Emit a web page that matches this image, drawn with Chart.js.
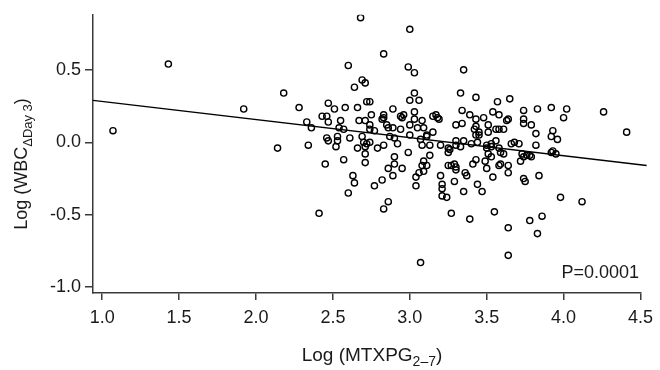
<!DOCTYPE html>
<html><head><meta charset="utf-8">
<script src="https://cdn.jsdelivr.net/npm/chart.js@4/dist/chart.umd.min.js"></script>
<style>html,body{margin:0;padding:0;background:#fff}#wrap{width:660px;height:370px}</style>
</head><body><div id="wrap"><canvas id="c" width="660" height="370"></canvas></div>
<script>
// Scatter points: Log(MTXPG2-7) vs Log(WBC ΔDay3)
const xValues = [
1.07,1.43,1.92,2.18,2.14,
2.68,2.83,2.60,2.69,2.71,2.64,2.72,2.74,2.28,2.47,2.51,2.58,2.66,2.89,2.83,2.83,2.75,2.43,2.46,2.33,2.36,2.47,2.55,2.54,2.57,2.67,2.71,2.74,2.74,2.77,2.82,2.85,2.86,2.89,2.94,2.46,2.47,2.53,2.53,2.52,2.61,2.34,2.69,2.70,2.72,2.74,2.71,2.66,2.79,2.83,2.87,2.90,2.92,
2.45,2.57,2.71,2.71,2.90,2.90,2.86,2.89,2.95,2.99,2.63,2.64,2.60,2.77,2.82,2.86,2.83,2.41,
3.00,2.99,3.03,3.35,3.03,3.00,3.06,3.33,3.43,3.57,3.65,3.74,3.74,3.74,2.94,2.96,2.95,3.03,3.03,3.00,3.00,3.05,3.09,3.08,3.15,3.17,3.19,3.18,3.15,3.11,3.11,3.07,3.08,3.13,3.20,3.34,3.39,3.43,3.30,3.34,3.43,3.42,3.45,3.43,3.45,3.48,3.51,3.51,3.54,3.58,3.56,3.58,3.61,3.63,3.64,3.25,3.30,3.30,3.33,3.35,3.40,3.44,3.50,3.53,3.56,3.58,3.66,3.68,3.71,
3.26,3.25,3.13,3.09,3.08,3.11,3.09,3.06,3.04,3.04,3.20,3.21,3.21,3.21,3.24,3.25,3.27,3.29,3.30,3.30,3.29,3.36,3.37,3.35,3.27,3.39,3.41,3.43,3.44,3.47,3.49,3.50,3.54,3.58,3.59,3.55,3.64,3.64,3.72,3.64,3.64,3.07,3.74,3.73,3.74,3.75,3.50,3.53,3.53,3.51,3.59,3.61,
3.83,3.92,4.02,4.00,4.26,4.41,3.79,3.82,3.93,3.92,3.96,3.82,3.93,
3.76,3.79,3.78,3.92,3.95,3.84,3.98,4.12,3.78,3.86,3.83
];
const yValues = [
0.08,0.54,0.23,0.34,-0.04,
0.86,0.61,0.53,0.43,0.41,0.38,0.28,0.28,0.24,0.27,0.23,0.24,0.24,0.23,0.19,0.17,0.19,0.18,0.18,0.14,0.10,0.14,0.15,0.10,0.09,0.15,0.15,0.12,0.09,0.08,0.16,0.12,0.10,0.10,0.09,0.03,0.01,0.04,0.01,-0.03,0.03,-0.02,0.04,0.00,-0.01,0.00,-0.03,-0.04,-0.04,-0.02,0.04,0.03,-0.01,
-0.15,-0.12,-0.08,-0.14,-0.10,-0.15,-0.18,-0.23,-0.18,-0.07,-0.23,-0.28,-0.35,-0.30,-0.26,-0.41,-0.46,-0.49,
0.78,0.52,0.48,0.50,0.34,0.29,0.29,0.34,0.31,0.28,0.30,0.22,0.16,0.13,0.18,0.19,0.17,0.21,0.16,0.12,0.05,0.10,0.10,0.15,0.18,0.19,0.16,0.17,0.07,0.05,0.04,0.02,-0.02,-0.02,-0.02,0.22,0.19,0.16,0.12,0.13,0.11,0.09,0.07,0.05,0.05,0.17,0.12,0.07,0.21,0.19,0.09,0.09,0.09,0.15,0.16,-0.04,0.01,-0.02,-0.03,0.01,-0.01,0.00,-0.04,-0.01,0.01,-0.04,-0.01,0.00,-0.01,
-0.05,-0.07,-0.09,-0.13,-0.16,-0.16,-0.20,-0.21,-0.24,-0.30,-0.23,-0.29,-0.32,-0.37,-0.38,-0.16,-0.16,-0.15,-0.17,-0.19,-0.27,-0.21,-0.23,-0.34,-0.49,-0.53,-0.15,-0.12,-0.29,-0.34,-0.13,-0.18,-0.24,-0.16,-0.15,-0.48,-0.16,-0.21,-0.13,-0.59,-0.78,-0.83,-0.10,-0.08,-0.25,-0.27,-0.02,-0.03,-0.10,-0.08,-0.07,-0.08,
0.23,0.24,0.23,0.17,0.21,0.07,0.12,0.06,0.08,0.04,0.02,-0.02,-0.06,
-0.09,-0.10,-0.09,-0.07,-0.08,-0.23,-0.38,-0.41,-0.54,-0.51,-0.63
];
// Regression line end points
const fitX = [0.94, 4.54];
const fitY = [0.29, -0.16];
const xTicks = [1.0, 1.5, 2.0, 2.5, 3.0, 3.5, 4.0, 4.5];
const yTicks = [-1.0, -0.5, 0.0, 0.5];
const xTitle = ['Log (MTXPG', '2\u20137', ')'];
const yTitle = ['Log (WBC', '\u0394Day 3', ')'];
const pLabel = 'P=0.0001';

const FONT = '"Liberation Sans", Arial, Helvetica, sans-serif';
const INK = '#1a1a1a';
const AXIS = '#3a3a3a';

const points = xValues.map((x, i) => ({x: x, y: yValues[i]}));
const fitLine = fitX.map((x, i) => ({x: x, y: fitY[i]}));

function drawSubText(ctx, parts, size, subSize, subDrop) {
  ctx.font = size + 'px ' + FONT;
  const w0 = ctx.measureText(parts[0]).width;
  const w2 = ctx.measureText(parts[2]).width;
  ctx.font = subSize + 'px ' + FONT;
  const w1 = ctx.measureText(parts[1]).width;
  const total = w0 + w1 + w2;
  let x = -total / 2;
  ctx.textAlign = 'left';
  ctx.textBaseline = 'alphabetic';
  ctx.font = size + 'px ' + FONT;
  ctx.fillText(parts[0], x, 0); x += w0;
  ctx.font = subSize + 'px ' + FONT;
  ctx.fillText(parts[1], x, subDrop); x += w1;
  ctx.font = size + 'px ' + FONT;
  ctx.fillText(parts[2], x, 0);
}

const textPlugin = {
  id: 'texts',
  afterDraw(chart) {
    const ctx = chart.ctx;
    ctx.save();
    ctx.fillStyle = INK;
    ctx.save();
    ctx.translate(372, 361);
    drawSubText(ctx, xTitle, 19, 14, 5);
    ctx.restore();
    ctx.save();
    ctx.translate(27, 164);
    ctx.rotate(-Math.PI / 2);
    drawSubText(ctx, yTitle, 18, 13, 5);
    ctx.restore();
    ctx.font = '18px ' + FONT;
    ctx.textAlign = 'right';
    ctx.textBaseline = 'alphabetic';
    ctx.fillText(pLabel, 639, 278);
    ctx.restore();
  }
};

new Chart(document.getElementById('c'), {
  type: 'scatter',
  data: {
    datasets: [
      {
        label: 'fit', type: 'line', data: fitLine,
        borderColor: '#000', borderWidth: 1.3, pointRadius: 0, fill: false, clip: false
      },
      {
        label: 'patients', data: points,
        pointStyle: 'circle', pointRadius: 3.1, pointBorderWidth: 1.4,
        pointBorderColor: '#000', pointBackgroundColor: 'rgba(255,255,255,0)'
      }
    ]
  },
  options: {
    responsive: false, animation: false, devicePixelRatio: 1,
    layout: {padding: {top: 13, right: 15, left: 0, bottom: 0}},
    plugins: {legend: {display: false}, tooltip: {enabled: false}},
    scales: {
      x: {
        type: 'linear', min: 0.94, max: 4.5,
        afterBuildTicks: s => { s.ticks = xTicks.map(v => ({value: v})); },
        afterFit: s => { s.height = 77; },
        ticks: {color: INK, font: {family: FONT, size: 18}, padding: 7, maxRotation: 0, autoSkip: false,
          callback: v => Number(v).toFixed(1)},
        grid: {drawOnChartArea: false, drawTicks: true, tickLength: 7, color: AXIS, lineWidth: 1.5},
        border: {display: true, color: AXIS, width: 1.5}
      },
      y: {
        type: 'linear', min: -1.04, max: 0.88,
        afterBuildTicks: s => { s.ticks = yTicks.map(v => ({value: v})); },
        afterFit: s => { s.width = 93; },
        ticks: {color: INK, font: {family: FONT, size: 18}, padding: 4,
          callback: v => Number(v).toFixed(1)},
        grid: {drawOnChartArea: false, drawTicks: true, tickLength: 8, color: AXIS, lineWidth: 1.5},
        border: {display: true, color: AXIS, width: 1.5}
      }
    }
  },
  plugins: [textPlugin]
});
</script>
</body></html>
